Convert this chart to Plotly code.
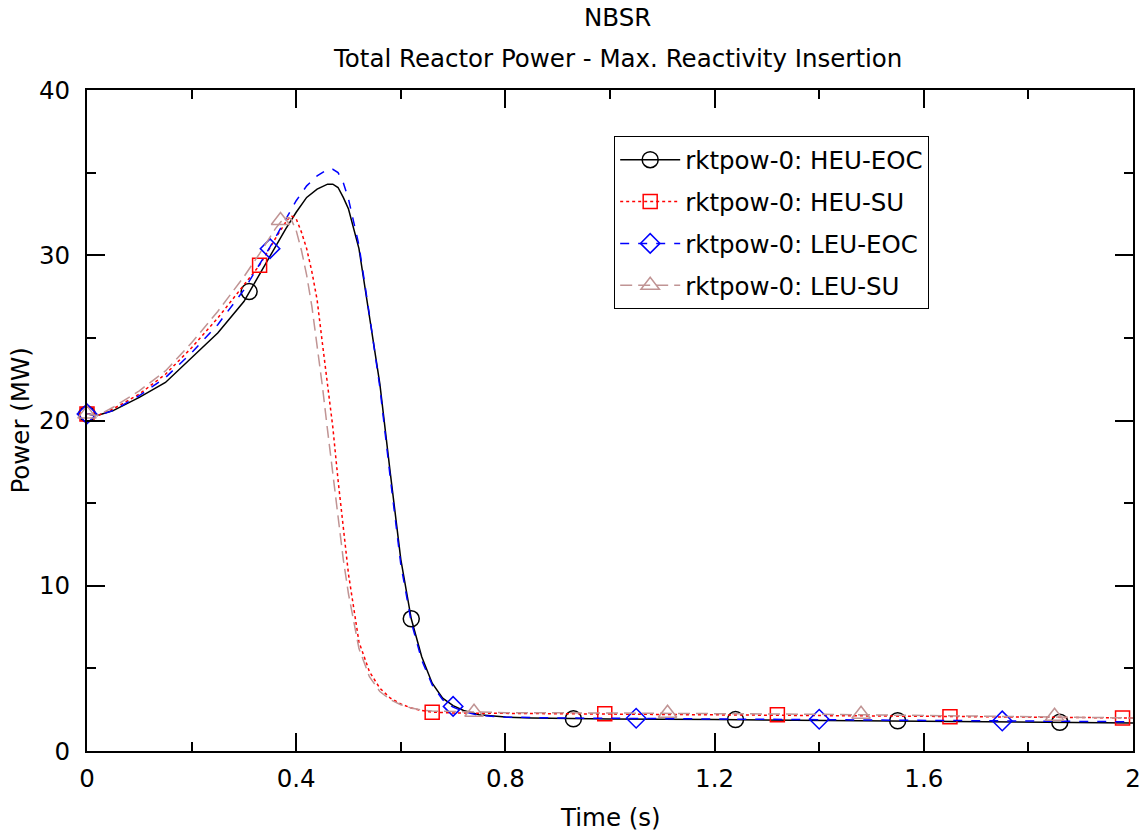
import plotly.graph_objects as go

# ---------------- data ----------------
heu_eoc_t = [0, 0.02, 0.05, 0.1, 0.15, 0.2, 0.25, 0.3, 0.35, 0.38, 0.4, 0.42, 0.44, 0.46, 0.47,
             0.48, 0.49, 0.5, 0.52, 0.54, 0.56, 0.58, 0.6, 0.62, 0.64, 0.66, 0.68, 0.7, 0.72,
             0.75, 0.8, 0.85, 0.93, 1.0, 1.2, 1.4, 1.6, 1.8, 1.9, 2.0]
heu_eoc_p = [20.4, 20.3, 20.6, 21.4, 22.3, 23.8, 25.3, 27.2, 30.0, 31.6, 32.6, 33.5, 34.0, 34.3, 34.3,
             34.1, 33.5, 32.8, 30.4, 26.3, 22.2, 16.8, 11.6, 8.0, 5.7, 4.1, 3.2, 2.75, 2.45,
             2.2, 2.05, 2.0, 1.95, 1.93, 1.9, 1.85, 1.8, 1.77, 1.72, 1.7]
heu_eoc_mt = [0, 0.31, 0.62, 0.93, 1.24, 1.55, 1.86]
heu_eoc_mp = [20.4, 27.8, 8.0, 1.95, 1.9, 1.83, 1.74]

heu_su_t = [0, 0.02, 0.05, 0.1, 0.15, 0.2, 0.25, 0.3, 0.33, 0.36, 0.38, 0.39, 0.4, 0.41, 0.42,
            0.43, 0.44, 0.45, 0.46, 0.47, 0.48, 0.49, 0.5, 0.52, 0.54, 0.56, 0.58, 0.6, 0.62,
            0.64, 0.66, 0.7, 0.8, 1.0, 1.2, 1.4, 1.6, 1.8, 2.0]
heu_su_p = [20.4, 20.3, 20.7, 21.6, 22.8, 24.4, 26.2, 28.2, 29.4, 31.0, 32.0, 32.4, 32.2, 31.4, 30.4,
            29.0, 27.3, 24.7, 22.2, 19.6, 16.4, 13.4, 10.7, 6.6, 4.8, 3.8, 3.2, 2.85, 2.6,
            2.45, 2.35, 2.3, 2.28, 2.25, 2.22, 2.18, 2.1, 2.05, 2.0]
heu_su_mt = [0, 0.33, 0.66, 0.99, 1.32, 1.65, 1.98]
heu_su_mp = [20.4, 29.4, 2.35, 2.25, 2.2, 2.08, 2.0]

leu_eoc_t = [0, 0.02, 0.05, 0.1, 0.15, 0.2, 0.25, 0.3, 0.35, 0.38, 0.4, 0.42, 0.44, 0.46, 0.47,
             0.48, 0.49, 0.5, 0.52, 0.54, 0.56, 0.58, 0.6, 0.62, 0.64, 0.66, 0.68, 0.7, 0.72,
             0.75, 0.8, 0.9, 1.0, 1.2, 1.4, 1.6, 1.8, 2.0]
leu_eoc_p = [20.4, 20.3, 20.6, 21.5, 22.6, 24.1, 25.8, 27.9, 30.5, 32.2, 33.3, 34.2, 34.8, 35.2, 35.2,
             35.0, 34.4, 33.4, 30.6, 26.4, 22.0, 16.5, 11.3, 7.8, 5.5, 4.0, 3.1, 2.65, 2.4,
             2.15, 2.05, 2.0, 1.98, 1.93, 1.9, 1.85, 1.8, 1.77]
leu_eoc_mt = [0, 0.35, 0.70, 1.05, 1.40, 1.75]
leu_eoc_mp = [20.4, 30.4, 2.7, 1.98, 1.92, 1.82]

leu_su_t = [0, 0.02, 0.05, 0.1, 0.15, 0.2, 0.25, 0.3, 0.33, 0.36, 0.37, 0.38, 0.39, 0.4, 0.41,
            0.42, 0.43, 0.44, 0.45, 0.46, 0.47, 0.48, 0.49, 0.5, 0.52, 0.54, 0.56, 0.58, 0.6,
            0.62, 0.64, 0.66, 0.7, 0.74, 0.8, 1.0, 1.2, 1.4, 1.6, 1.8, 2.0]
leu_su_p = [20.4, 20.3, 20.8, 21.8, 23.0, 24.7, 26.6, 28.7, 30.1, 31.6, 32.0, 32.3, 32.2, 31.5, 30.3,
            28.8, 26.9, 24.6, 22.1, 19.4, 16.8, 14.1, 11.6, 9.5, 6.2, 4.5, 3.6, 3.1, 2.8,
            2.6, 2.48, 2.42, 2.38, 2.35, 2.32, 2.3, 2.27, 2.22, 2.15, 2.08, 2.0]
leu_su_mt = [0, 0.37, 0.74, 1.11, 1.48, 1.85]
leu_su_mp = [20.4, 32.1, 2.35, 2.28, 2.22, 2.1]

names = ["rktpow-0: HEU-EOC", "rktpow-0: HEU-SU", "rktpow-0: LEU-EOC", "rktpow-0: LEU-SU"]
x_tickvals = [0, 0.4, 0.8, 1.2, 1.6, 2.0]
x_ticktext = ["0", "0.4", "0.8", "1.2", "1.6", "2"]
y_tickvals = [0, 10, 20, 30, 40]

# ---------------- styling ----------------
FONT = "DejaVu Sans"
FS = 24.5
series = [
    (heu_eoc_t, heu_eoc_p, heu_eoc_mt, heu_eoc_mp, "#000000", "solid", "circle-open", 16),
    (heu_su_t, heu_su_p, heu_su_mt, heu_su_mp, "#ff0000", "dot", "square-open", 14),
    (leu_eoc_t, leu_eoc_p, leu_eoc_mt, leu_eoc_mp, "#0000ff", "dash", "diamond-open", 15),
    (leu_su_t, leu_su_p, leu_su_mt, leu_su_mp, "#c09494", "12px,6px", "triangle-up-open", 16),
]

fig = go.Figure()
for i, (t, p, mt, mp, col, dash, sym, ms) in enumerate(series):
    fig.add_trace(go.Scatter(x=t, y=p, mode="lines", line=dict(color=col, width=1.5, dash=dash),
                             showlegend=False, legendgroup=str(i), hoverinfo="skip"))
    fig.add_trace(go.Scatter(x=mt, y=mp, mode="markers", cliponaxis=False,
                             marker=dict(symbol=sym, size=ms, color=col, line=dict(color=col, width=1.5)),
                             showlegend=False, legendgroup=str(i)))
    fig.add_trace(go.Scatter(x=[None], y=[None], mode="lines+markers", name=names[i],
                             legendgroup=str(i),
                             line=dict(color=col, width=1.5, dash=dash),
                             marker=dict(symbol=sym, size=ms, color=col, line=dict(color=col, width=1.5))))

axis_common = dict(
    showline=True, linecolor="black", linewidth=2, mirror="ticks",
    ticks="inside", ticklen=18, tickwidth=1.5, tickcolor="black",
    showgrid=False, zeroline=False, automargin=False,
    tickfont=dict(family=FONT, size=FS, color="black"),
)

fig.update_xaxes(**axis_common, range=[0, 2], tickvals=x_tickvals, ticktext=x_ticktext,
                 minor=dict(dtick=0.2, tick0=0, ticks="inside", ticklen=9, tickwidth=1.5, tickcolor="black"),
                 ticklabelstandoff=5)
fig.update_yaxes(**axis_common, range=[0, 40], tickvals=y_tickvals,
                 minor=dict(dtick=5, tick0=0, ticks="inside", ticklen=9, tickwidth=1.5, tickcolor="black"),
                 ticklabelstandoff=10)

fig.update_layout(
    width=1142, height=831,
    margin=dict(l=87, r=9, t=90, b=80),
    plot_bgcolor="white", paper_bgcolor="white",
    font=dict(family=FONT, size=FS, color="black"),
    legend=dict(x=0.504, y=0.93, xanchor="left", yanchor="top",
                bgcolor="white", bordercolor="black", borderwidth=1,
                font=dict(family=FONT, size=FS, color="black"),
                itemwidth=60, tracegroupgap=7, traceorder="grouped"),
    annotations=[
        dict(text="NBSR", x=0.507, y=1.109, xref="paper", yref="paper", showarrow=False,
             xanchor="center", yanchor="middle", font=dict(family=FONT, size=FS, color="black")),
        dict(text="Total Reactor Power - Max. Reactivity Insertion", x=0.507, y=1.048,
             xref="paper", yref="paper", showarrow=False, xanchor="center", yanchor="middle",
             font=dict(family=FONT, size=FS, color="black")),
        dict(text="Time (s)", x=0.5, y=-0.101, xref="paper", yref="paper", showarrow=False,
             xanchor="center", yanchor="middle", font=dict(family=FONT, size=FS, color="black")),
        dict(text="Power (MW)", x=-0.064, y=0.5, xref="paper", yref="paper", showarrow=False,
             textangle=-90, xanchor="center", yanchor="middle",
             font=dict(family=FONT, size=FS, color="black")),
    ],
)

fig.write_html("out.html", config={"displayModeBar": False},
               post_script="document.body.style.margin='0';document.body.style.overflow='hidden';")
